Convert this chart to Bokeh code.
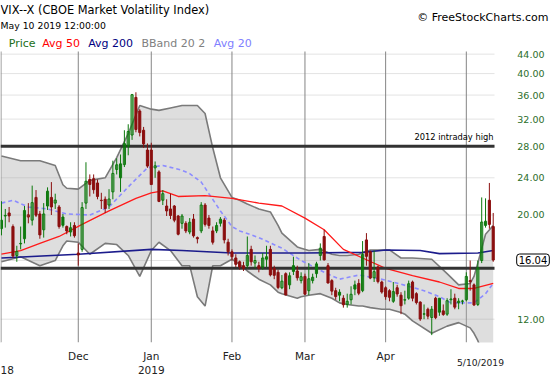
import math
import pandas as pd
from bokeh.plotting import figure
from bokeh.models import Range1d, Label
from bokeh.core.properties import value
from bokeh.embed import file_html
from bokeh.resources import INLINE

# ---------------- data ----------------
holidays = ["2018-11-22", "2018-12-05", "2018-12-25", "2019-01-01",
            "2019-01-21", "2019-02-18", "2019-04-19"]
dates = [d.strftime("%Y-%m-%d") for d in pd.bdate_range("2018-11-02", "2019-05-10")
         if d.strftime("%Y-%m-%d") not in holidays]

opens = [18.7, 19.9, 20.2, 18.9, 16.4, 17.4, 17.8, 19.8, 19.5, 21.8, 20.1, 18.6, 20.9, 21.8, 21.2, 20.8, 19.8, 18.9, 18.4, 19.0,
         16.6, 16.9, 21.2, 23.8, 23.9, 23.4, 21.5, 21.6, 21.0, 22.4, 25.0, 24.0, 25.6, 28.0, 29.6, 35.6, 33.3, 30.3, 27.5,
         27.5, 25.2, 24.7, 21.5, 20.9, 20.6, 20.9, 19.9, 19.2, 19.2, 18.4, 19.6, 17.9, 18.5, 21.0, 19.7, 18.5, 18.5, 19.2, 19.5, 17.5,
         16.7, 16.2, 15.9, 15.6, 15.6, 16.9, 15.8, 15.6, 15.5, 16.1, 16.9, 15.4, 15.1, 14.0, 15.0, 14.2, 15.6, 15.2, 14.5,
         14.8, 13.8, 14.5, 15.0, 16.4, 18.0, 15.6, 14.5, 13.8, 13.7, 13.3, 12.9, 13.2, 14.2, 14.3, 13.8, 17.7, 16.7, 14.7, 15.5, 14.4,
         14.0, 13.8, 13.1, 14.0, 13.5, 13.2, 13.3, 14.4, 13.6, 13.05, 12.3, 12.6, 12.1, 13.3, 13.3, 12.5, 12.3, 13.2, 13.3, 13.0, 13.1,
         13.2, 14.5, 14.2, 12.9, 16.0, 19.0, 21.5, 18.9]
highs = [21.4, 20.6, 20.8, 19.1, 17.2, 18.9, 20.9, 21.2, 23.1, 22.6, 20.4, 21.2, 22.9, 23.5, 22.2, 21.0, 20.1, 19.0, 19.3, 19.3,
         17.4, 21.3, 25.9, 24.4, 24.4, 23.8, 22.3, 21.9, 22.7, 26.1, 26.4, 26.9, 30.3, 31.2, 36.2, 36.5, 33.6, 30.8, 28.4,
         28.5, 26.0, 24.9, 22.6, 21.6, 22.2, 21.0, 20.0, 20.1, 19.4, 19.7, 20.1, 18.0, 21.3, 21.2, 20.0, 18.9, 19.3, 19.8, 19.7, 17.8,
         16.9, 16.5, 16.0, 15.9, 18.0, 17.2, 16.4, 15.9, 16.6, 17.2, 17.2, 15.6, 15.3, 14.9, 15.1, 15.1, 16.3, 15.6, 15.1,
         15.0, 15.8, 15.0, 15.9, 17.4, 18.6, 15.8, 14.6, 14.0, 13.9, 13.5, 13.6, 14.1, 14.5, 14.6, 17.6, 18.3, 16.8, 16.8, 15.6, 14.5,
         14.1, 13.9, 14.4, 14.2, 13.7, 13.8, 14.5, 14.5, 13.7, 13.1, 12.9, 12.7, 12.8, 13.4, 13.3, 12.9, 13.3, 13.9, 13.6, 13.3, 13.2,
         15.1, 16.0, 14.3, 16.0, 21.8, 21.7, 23.4, 20.2]
lows = [18.1, 18.8, 19.3, 16.2, 15.9, 16.9, 17.4, 19.2, 19.0, 19.8, 17.8, 17.9, 20.5, 20.0, 20.6, 18.7, 18.8, 18.2, 18.0, 17.9,
        15.6, 16.7, 20.6, 21.9, 22.2, 21.6, 20.6, 20.2, 20.6, 21.6, 24.4, 22.4, 25.3, 26.8, 28.9, 30.0, 29.4, 27.8, 25.2,
        23.2, 24.0, 21.3, 21.0, 19.9, 19.6, 19.3, 18.1, 18.7, 18.3, 18.2, 17.9, 17.4, 18.3, 18.9, 18.7, 17.3, 18.3, 18.9, 17.4, 16.4,
        16.0, 15.5, 15.3, 15.2, 15.4, 15.6, 15.4, 15.1, 15.3, 15.5, 14.8, 14.6, 13.9, 13.9, 13.5, 13.9, 14.9, 14.5, 14.3,
        13.5, 13.5, 14.3, 14.7, 16.0, 16.0, 14.3, 13.5, 13.2, 13.1, 12.7, 12.7, 12.9, 13.5, 13.5, 13.7, 15.6, 14.6, 14.4, 14.3, 13.6,
        13.2, 13.1, 13.0, 13.4, 12.3, 12.9, 13.2, 13.1, 12.9, 11.9, 12.0, 12.0, 11.1, 12.0, 12.2, 12.2, 12.2, 12.9, 12.6, 12.6, 12.9,
        13.1, 13.8, 12.8, 12.8, 15.8, 18.8, 18.7, 15.9]
closes = [19.5, 19.96, 19.91, 16.36, 16.72, 17.36, 20.45, 20.02, 21.25, 19.98, 18.14, 20.10, 22.48, 20.80, 21.52, 18.90, 19.02, 18.49, 18.79, 18.07,
          16.44, 20.74, 23.6, 23.23, 22.64, 21.9, 21.46, 20.65, 21.63, 24.52, 25.58, 25.7, 28.38, 30.11, 36.07, 30.41, 29.96, 28.34, 25.42,
          23.22, 25.45, 21.38, 22.2, 20.4, 19.95, 19.5, 18.2, 19.9, 18.5, 19.3, 18.06, 17.8, 21.0, 19.1, 19.0, 17.5, 19.0, 19.6, 17.7, 16.7,
          16.3, 15.7, 15.5, 15.4, 16.4, 15.9, 16.0, 15.4, 16.2, 16.3, 14.91, 14.88, 14.02, 14.46, 13.51, 14.85, 15.17, 14.70, 14.78,
          13.57, 14.63, 14.74, 15.74, 17.0, 16.05, 14.33, 13.77, 13.41, 13.50, 12.88, 13.10, 13.56, 13.91, 13.63, 16.48, 16.33, 14.68, 15.15, 14.43, 13.71,
          13.40, 13.36, 13.74, 13.58, 12.82, 13.18, 14.28, 13.30, 13.02, 12.01, 12.32, 12.18, 12.60, 12.09, 12.42, 12.28, 13.14, 13.25, 12.73, 13.11, 13.12,
          14.80, 14.42, 12.87, 15.44, 19.32, 19.40, 19.10, 16.04]

# overlay studies, read at sample dates
avg50_dates = ["2018-11-02", "2018-11-09", "2018-11-16", "2018-11-26", "2018-12-04", "2018-12-14", "2018-12-26",
               "2019-01-02", "2019-01-07", "2019-01-11", "2019-01-23", "2019-02-01", "2019-02-12", "2019-02-21",
               "2019-03-01", "2019-03-08", "2019-03-15", "2019-03-22", "2019-04-01", "2019-04-10", "2019-04-22",
               "2019-04-29", "2019-05-03", "2019-05-10"]
avg50_vals = [16.5, 16.8, 17.4, 18.0, 19.1, 20.4, 21.7, 22.3, 22.5, 21.9, 22.0, 21.7, 21.2, 20.9,
              19.7, 18.6, 16.9, 16.2, 15.4, 14.85, 14.4, 13.95, 13.95, 14.3]

avg200_dates = ["2018-11-02", "2018-12-03", "2019-01-02", "2019-01-14", "2019-02-01", "2019-03-01",
                "2019-03-22", "2019-04-01", "2019-04-12", "2019-04-22", "2019-05-06", "2019-05-10"]
avg200_vals = [16.2, 16.5, 16.9, 16.8, 16.6, 16.6, 16.65, 16.85, 16.8, 16.55, 16.6, 16.8]

avg20_dates = ["2018-11-02", "2018-11-07", "2018-11-13", "2018-11-20", "2018-11-28", "2018-12-07", "2018-12-14",
               "2018-12-24", "2018-12-31", "2019-01-07", "2019-01-14", "2019-01-16", "2019-01-22", "2019-01-24",
               "2019-01-29", "2019-02-01", "2019-02-05", "2019-02-12", "2019-02-21", "2019-02-28", "2019-03-06",
               "2019-03-08", "2019-03-14", "2019-03-21", "2019-03-29", "2019-04-09", "2019-04-15", "2019-04-22",
               "2019-04-25", "2019-05-03", "2019-05-08", "2019-05-10"]
avg20_vals = [21.2, 21.5, 20.8, 20.6, 20.1, 20.0, 20.8, 23.4, 25.2, 25.5, 24.9, 24.5, 23.5, 22.2,
              20.4, 18.9, 18.5, 17.9, 17.0, 16.0, 15.4, 15.1, 14.6, 14.9, 14.6, 14.1, 13.8, 13.4,
              13.0, 13.0, 13.6, 14.3]

bb_dates = ["2018-11-02", "2018-11-09", "2018-11-16", "2018-11-23", "2018-11-27", "2018-11-28", "2018-12-03",
            "2018-12-07", "2018-12-13", "2018-12-18", "2018-12-21", "2018-12-27", "2019-01-02", "2019-01-04",
            "2019-01-09", "2019-01-14", "2019-01-16", "2019-01-18", "2019-01-23", "2019-01-25", "2019-01-29",
            "2019-02-01", "2019-02-05", "2019-02-07", "2019-02-12", "2019-02-15", "2019-02-20", "2019-02-21",
            "2019-02-27", "2019-02-28", "2019-03-04", "2019-03-07", "2019-03-12", "2019-03-14", "2019-03-18",
            "2019-03-21", "2019-03-22", "2019-03-26", "2019-03-29", "2019-04-02", "2019-04-05", "2019-04-08",
            "2019-04-10", "2019-04-17", "2019-04-24", "2019-04-29", "2019-05-02", "2019-05-03", "2019-05-06",
            "2019-05-08", "2019-05-10"]
bb_upper = [26.7, 26.1, 26.1, 25.5, 23.2, 22.8, 22.7, 23.7, 24.0, 26.5, 29.8, 34.2, 33.6, 33.4,
            33.8, 34.2, 34.2, 34.2, 32.9, 27.8, 24.0, 21.8, 21.5, 21.1, 20.6, 20.3, 19.0, 18.3,
            17.1, 17.0, 16.8, 16.9, 16.5, 16.4, 16.4, 16.5, 16.6, 16.85, 16.85, 16.85, 16.2, 16.2,
            16.2, 16.1, 15.0, 14.2, 14.3, 14.8, 15.8, 18.2, 19.0]
bb_lower = [15.9, 16.3, 15.6, 16.0, 17.2, 17.6, 17.5, 16.5, 17.4, 17.3, 16.4, 14.8, 16.8, 17.5,
            16.8, 15.6, 15.6, 13.4, 12.8, 15.6, 15.6, 16.1, 15.7, 15.2, 14.6, 14.2, 13.7, 13.6,
            13.3, 13.4, 13.5, 13.6, 13.3, 13.0, 12.9, 12.8, 12.8, 12.7, 12.6, 12.6, 12.4, 12.3,
            11.9, 11.2, 11.6, 11.8, 11.5, 11.2, 10.8, 9.8, 9.5]

price_ticks = [12, 20, 24, 28, 32, 36, 40, 44]
grid_levels = [12, 16, 20, 24, 28, 32, 36, 40, 44]
month_names = {12: "Dec", 1: "Jan", 2: "Feb", 3: "Mar", 4: "Apr"}
resistance = 28.0   # 2012 intraday high line
support = 15.4
last_close_label = "16.04"

assert len(dates) == len(opens) == len(highs) == len(lows) == len(closes)

# ---------------- layout helpers (pixel -> data) ----------------
PX_PER_DAY = 3.842
X0_PX = 0.94
def xs(px):
    return (px - X0_PX) / PX_PER_DAY
def ys(py):
    return 12.0 * math.exp((318.7 - py) / 204.0)

PL, PR, PT, PB = 0, 494, 51, 342   # chart frame in pixels

idx = {d: i for i, d in enumerate(dates)}
n = len(dates)
xi = list(range(n))

p = figure(width=550, height=375, output_backend="svg", toolbar_location=None,
           y_axis_type="log", x_axis_location=None, y_axis_location=None,
           x_range=Range1d(xs(0), xs(550)), y_range=Range1d(ys(375), ys(0)),
           min_border=0, background_fill_color="white", border_fill_color="white")
p.outline_line_color = None
p.grid.visible = False

# grid lines
p.segment(x0=[xs(PL)] * len(grid_levels), x1=[xs(PR)] * len(grid_levels), y0=grid_levels, y1=grid_levels,
          line_color="#e3e3e3", line_width=1)
month_idx = [i for i in range(1, n) if dates[i][5:7] != dates[i - 1][5:7]]
p.segment(x0=month_idx, x1=month_idx, y0=[ys(PB)] * len(month_idx), y1=[ys(PT)] * len(month_idx),
          line_color="#858585", line_width=1)
p.segment(x0=[xs(0.5)], x1=[xs(0.5)], y0=[ys(PB)], y1=[ys(PT)], line_color="#858585", line_width=1)

# Bollinger band
bx = [idx[d] for d in bb_dates]
p.varea(x=bx, y1=bb_lower, y2=bb_upper, fill_color="#a8a8a8", fill_alpha=0.38)
p.line(bx, bb_upper, line_color="#7a7a7a", line_width=1.6)
p.line(bx, bb_lower, line_color="#7a7a7a", line_width=1.6)

# moving averages
p.line([idx[d] for d in avg20_dates], avg20_vals, line_color="#8c8cff", line_width=1.6, line_dash="4 3")
p.line([idx[d] for d in avg200_dates], avg200_vals, line_color="#1c1c8c", line_width=1.6)
p.line([idx[d] for d in avg50_dates], avg50_vals, line_color="#ff1a1a", line_width=1.3)

# drawn horizontal lines
p.line([xs(PL), xs(PR)], [resistance, resistance], line_color="#333333", line_width=3)
p.line([xs(PL), xs(PR)], [support, support], line_color="#333333", line_width=3)

# candles
GREEN = "#0b780b"
RED = "#8b0f0f"
colors, fills = [], []
for i in range(n):
    prev = closes[i - 1] if i > 0 else opens[i]
    c = GREEN if closes[i] >= prev else RED
    colors.append(c)
    fills.append(None if closes[i] > opens[i] else c)
p.segment(x0=xi, y0=lows, x1=xi, y1=highs, line_color=colors, line_width=1)
tops = [max(o, c) for o, c in zip(opens, closes)]
bots = [min(o, c) for o, c in zip(opens, closes)]
hol = [i for i in range(n) if fills[i] is None]
fil = [i for i in range(n) if fills[i] is not None]
p.vbar(x=[xi[i] for i in fil], width=0.55, top=[tops[i] for i in fil], bottom=[bots[i] for i in fil],
       fill_color=[colors[i] for i in fil], line_color=[colors[i] for i in fil], line_width=1)
p.vbar(x=[xi[i] for i in hol], width=0.55, top=[tops[i] for i in hol], bottom=[bots[i] for i in hol],
       fill_alpha=0, line_color=[colors[i] for i in hol], line_width=1)

# keep the studies inside the chart frame (blank strip under it)
p.quad(left=[xs(0)], right=[xs(550)], bottom=[ys(375)], top=[ys(PB)], fill_color="white", line_color=None)

# price scale on the right
p.text(x=[xs(544)] * len(price_ticks), y=price_ticks, text=[f"{v:.2f}" for v in price_ticks],
       text_font=value("DejaVu Sans"), text_font_size="9.5px", text_color="#2a6e2a",
       text_align="right", text_baseline="middle")

# ---------------- texts ----------------
F = "DejaVu Sans"
def lab(text, px, py, size, color="black", align="left", **kw):
    p.add_layout(Label(x=xs(px), y=ys(py), text=text, text_font=F, text_font_size=size,
                       text_color=color, text_align=align, text_baseline="middle", **kw))

lab("VIX--X (CBOE Market Volatility Index)", 0, 9.5, "11.4px")
lab("May 10 2019 12:00:00", 0, 25, "9.3px")
lab("Price", 8.3, 42.5, "11px", "#1a6e1a")
lab("Avg 50", 41.7, 42.5, "11px", "#ff0000")
lab("Avg 200", 87.7, 42.5, "11px", "#000080")
lab("BBand 20 2", 141, 42.5, "11px", "#808080")
lab("Avg 20", 213.3, 42.5, "11px", "#8080ff")
lab("\u00a9 FreeStockCharts.com", 548, 16.5, "11px", align="right")
lab("2012 intraday high", 493, 136, "8.3px", align="right")

for i in month_idx:
    m = int(dates[i][5:7])
    if m in month_names:
        p.add_layout(Label(x=i, y=ys(355), text=month_names[m], text_font=F, text_font_size="10.5px",
                           text_color="#222222", text_align="center", text_baseline="middle"))
        if m == 1:
            p.add_layout(Label(x=i, y=ys(369), text=dates[i][:4], text_font=F, text_font_size="10.5px",
                               text_color="#222222", text_align="center", text_baseline="middle"))
lab("18", 0, 369, "10.5px", "#222222")
lab("5/10/2019", 480, 362, "9.2px", "#222222", align="center")

p.add_layout(Label(x=xs(532.5), y=closes[-1], text=last_close_label, text_font=F, text_font_size="10px",
                   text_color="black", text_align="center", text_baseline="middle",
                   background_fill_color="white", border_line_color="black", border_line_width=1,
                   padding=2, border_radius=3))

open("out.html", "w").write(file_html(p, INLINE))
